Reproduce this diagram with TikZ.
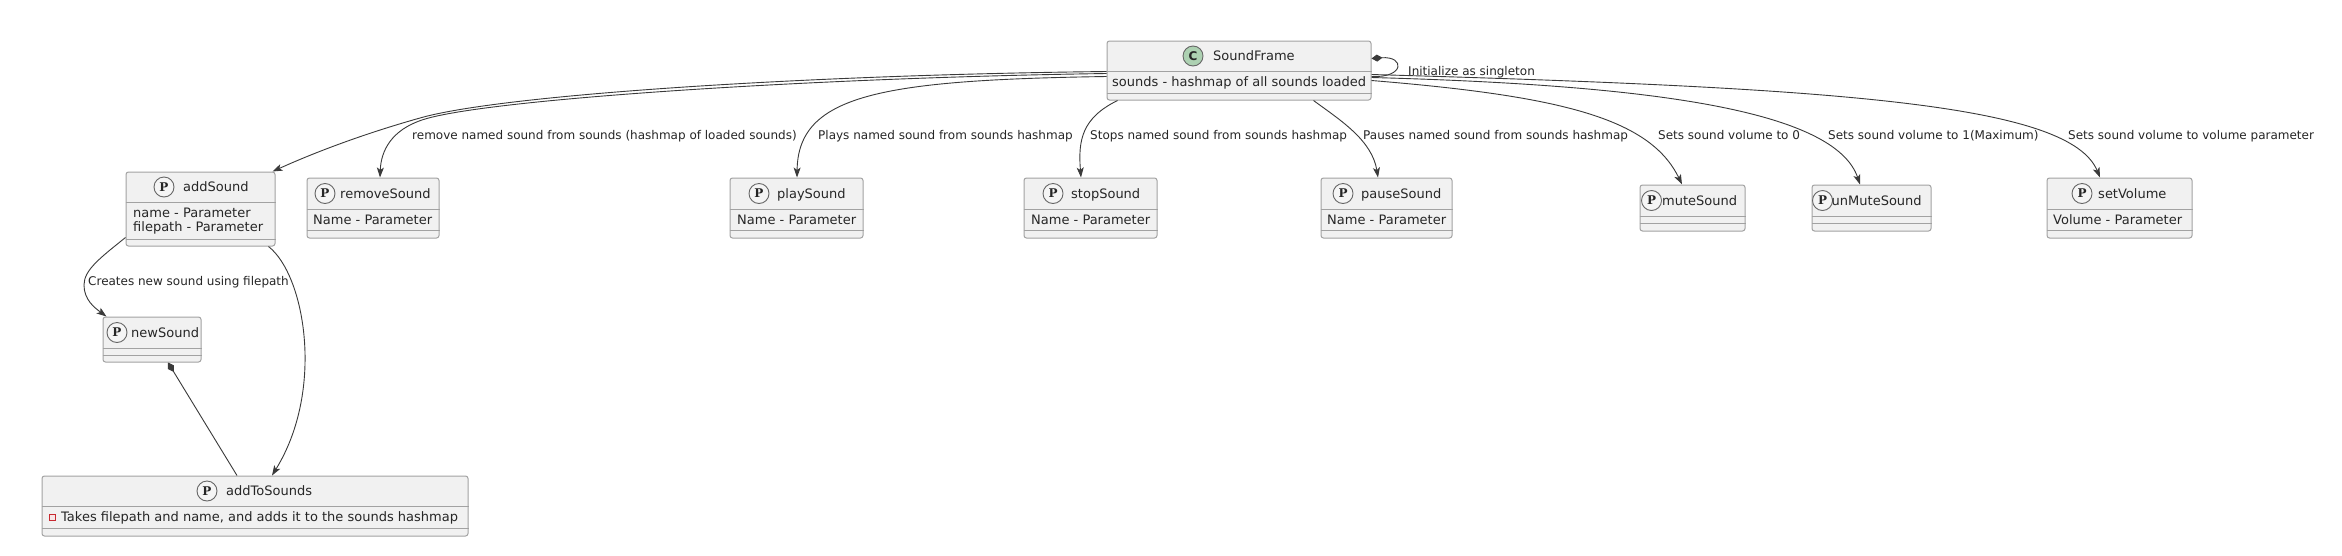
\documentclass[tikz,border=0pt]{standalone}
\usepackage{fontspec}
\setmainfont{DejaVu Sans}
\newfontfamily\iconserif{DejaVu Serif}
\usetikzlibrary{arrows.meta,calc}
\definecolor{boxfill}{HTML}{F1F1F1}
\definecolor{boxline}{HTML}{A2A2A2}
\definecolor{edgecol}{HTML}{3A3A3A}
\definecolor{textcol}{HTML}{262626}
\definecolor{cgreen}{HTML}{ADD1B2}
\definecolor{privred}{HTML}{C82930}
\newcommand{\boxfont}{\fontsize{13}{15}\selectfont}
\newcommand{\lblfont}{\fontsize{12}{14}\selectfont}
\newcommand{\sepl}[2]{\draw[sepline] (#1.west |- 0,#2) -- (#1.east |- 0,#2);}
\tikzset{
  classbox/.style={draw=boxline, fill=boxfill, rounded corners=2.5pt, line width=1pt, inner sep=0pt},
  sepline/.style={draw=boxline, line width=1pt},
  picon/.style={circle, draw=black!60, fill=white!96!black, line width=0.9pt, minimum size=20pt, inner sep=0pt, font=\iconserif\bfseries\fontsize{12}{12}\selectfont, text=textcol},
  cicon/.style={circle, draw=black!60, fill=cgreen, line width=0.9pt, minimum size=20pt, inner sep=0pt, font=\bfseries\fontsize{12}{12}\selectfont, text=textcol},
  boxtext/.style={anchor=base west, inner sep=0pt, font=\boxfont, text=textcol},
  lbltext/.style={anchor=base west, inner sep=0pt, font=\lblfont, text=textcol},
  privsq/.style={draw=privred, fill=privred!12, line width=0.9pt, minimum size=6pt, inner sep=0pt},
  edge/.style={draw=edgecol, line width=0.9pt},
  arr/.style={edge, -{Stealth[length=10pt,width=7pt,inset=2.5pt]}},
  comp/.style={edge, {Diamond[length=11pt,width=7pt]}-}
}
\begin{document}
\begin{tikzpicture}[x=1pt, y=-1pt]
\path[use as bounding box, fill=white] (0,0) rectangle (2342,555);

% ---------- class boxes ----------
\node[classbox, minimum width=264pt, minimum height=59pt] (SF) at (1239,70.5) {};
\sepl{SF}{71}\sepl{SF}{93}
\node[cicon] (SFi) at (1193,56) {C};
\node[boxtext] (SFn) at (1213,60.7) {SoundFrame};
\node[boxtext] (SFa) at (1112,86.7) {sounds - hashmap of all sounds loaded};

\node[classbox, minimum width=149pt, minimum height=74pt] (AS) at (200.5,209) {};
\sepl{AS}{202}\sepl{AS}{239}
\node[picon] (ASi) at (164,187) {P};
\node[boxtext] (ASn) at (183,191.7) {addSound};
\node[boxtext] (ASa1) at (133,217) {name - Parameter};
\node[boxtext] (ASa2) at (133,231.5) {filepath - Parameter};

\node[classbox, minimum width=132pt, minimum height=60pt] (RS) at (373,208) {};
\sepl{RS}{209}\sepl{RS}{230}
\node[picon] (RSi) at (325,193.5) {P};
\node[boxtext] (RSn) at (340,198.2) {removeSound};
\node[boxtext] (RSa) at (313,224.2) {Name - Parameter};

\node[classbox, minimum width=133pt, minimum height=60pt] (PS) at (796.5,208) {};
\sepl{PS}{209}\sepl{PS}{230}
\node[picon] (PSi) at (759,193.5) {P};
\node[boxtext] (PSn) at (777,198.2) {playSound};
\node[boxtext] (PSa) at (737,224.2) {Name - Parameter};

\node[classbox, minimum width=133pt, minimum height=60pt] (StS) at (1090.5,208) {};
\sepl{StS}{209}\sepl{StS}{230}
\node[picon] (StSi) at (1053,193.5) {P};
\node[boxtext] (StSn) at (1071,198.2) {stopSound};
\node[boxtext] (StSa) at (1031,224.2) {Name - Parameter};

\node[classbox, minimum width=131pt, minimum height=60pt] (PaS) at (1386.5,208) {};
\sepl{PaS}{209}\sepl{PaS}{230}
\node[picon] (PaSi) at (1343,193.5) {P};
\node[boxtext] (PaSn) at (1361,198.2) {pauseSound};
\node[boxtext] (PaSa) at (1327,224.2) {Name - Parameter};

\node[classbox, minimum width=105pt, minimum height=46pt] (MS) at (1692.5,208) {};
\sepl{MS}{216}\sepl{MS}{223}
\node[picon] (MSi) at (1651.5,200.5) {P};
\node[boxtext] (MSn) at (1662,205.2) {muteSound};

\node[classbox, minimum width=119pt, minimum height=46pt] (UMS) at (1871.5,208) {};
\sepl{UMS}{216}\sepl{UMS}{223}
\node[picon] (UMSi) at (1822.5,200.5) {P};
\node[boxtext] (UMSn) at (1831.5,205.2) {unMuteSound};

\node[classbox, minimum width=145pt, minimum height=60pt] (SV) at (2119.5,208) {};
\sepl{SV}{209}\sepl{SV}{230}
\node[picon] (SVi) at (2082,193.5) {P};
\node[boxtext] (SVn) at (2098,198.2) {setVolume};
\node[boxtext] (SVa) at (2053,224.2) {Volume - Parameter};

\node[classbox, minimum width=98pt, minimum height=45pt] (NS) at (152,339.5) {};
\sepl{NS}{348}\sepl{NS}{355}
\node[picon] (NSi) at (117,332.5) {P};
\node[boxtext] (NSn) at (131,337.2) {newSound};

\node[classbox, minimum width=426pt, minimum height=60pt] (ATS) at (255,506) {};
\sepl{ATS}{506}\sepl{ATS}{528}
\node[picon] (ATSi) at (207,491) {P};
\node[boxtext] (ATSn) at (226,495.7) {addToSounds};
\node[privsq] (ATSp) at (52,517) {};
\node[boxtext] (ATSa) at (61,521.7) {Takes filepath and name, and adds it to the sounds hashmap};

% ---------- connectors ----------
\draw[arr] ($(SF.north west)+(0,31)$) .. controls (800,75) and (500,95) .. (420,118)
  .. controls (370,132) and (320,150) .. ($(AS.north east)+(-3,0)$);
\draw[arr] ($(SF.north west)+(0,33)$) .. controls (800,78) and (480,100) .. (422,120)
  .. controls (392,130) and (381,150) .. ($(RS.north)+(7,0)$);
\draw[arr] ($(SF.north west)+(0,36)$) .. controls (880,80) and (798,95) .. ($(PS.north)+(0.5,0)$);
\draw[arr] ($(SF.south west)+(11,0)$) .. controls (1082,118) and (1078,140) .. ($(StS.north)+(-9.5,0)$);
\draw[arr] ($(SF.south east)+(-58,0)$) .. controls (1340,120) and (1372,140) .. ($(PaS.north)+(-8.5,0)$);
\draw[arr] ($(SF.north east)+(0,40)$) .. controls (1560,96) and (1650,118) .. ($(MS.north)+(-10.5,0)$);
\draw[arr] ($(SF.north east)+(0,37)$) .. controls (1650,85) and (1835,110) .. ($(UMS.north)+(-11.5,0)$);
\draw[arr] ($(SF.north east)+(0,34)$) .. controls (1850,88) and (2070,105) .. ($(SV.north)+(-19.5,0)$);
\draw[comp] ($(SF.north east)+(0,18)$) .. controls (1405,56) and (1405,78) .. ($(SF.north east)+(0,36)$);

\draw[arr] ($(AS.south west)+(0,-9)$) .. controls (100,258) and (84,270) .. (84,285)
  .. controls (84,300) and (95,308) .. ($(NS.north west)+(4,0)$);
\draw[arr] ($(AS.south east)+(-7,0)$) .. controls (305,275) and (325,390) .. ($(ATS.north)+(17,0)$);
\draw[comp] ($(NS.south)+(16,0)$) -- ($(ATS.north)+(-18,0)$);

% ---------- connector labels ----------
\node[lbltext] (L1) at (412,139.3) {remove named sound from sounds (hashmap of loaded sounds)};
\node[lbltext] (L2) at (818,139.3) {Plays named sound from sounds hashmap};
\node[lbltext] (L3) at (1090,139.3) {Stops named sound from sounds hashmap};
\node[lbltext] (L4) at (1363,139.3) {Pauses named sound from sounds hashmap};
\node[lbltext] (L5) at (1658,139.3) {Sets sound volume to 0};
\node[lbltext] (L6) at (1828,139.3) {Sets sound volume to 1(Maximum)};
\node[lbltext] (L7) at (2068,139.3) {Sets sound volume to volume parameter};
\node[lbltext] (L8) at (1408,75.3) {Initialize as singleton};
\node[lbltext] (L9) at (88,285.3) {Creates new sound using filepath};
\end{tikzpicture}
\end{document}
